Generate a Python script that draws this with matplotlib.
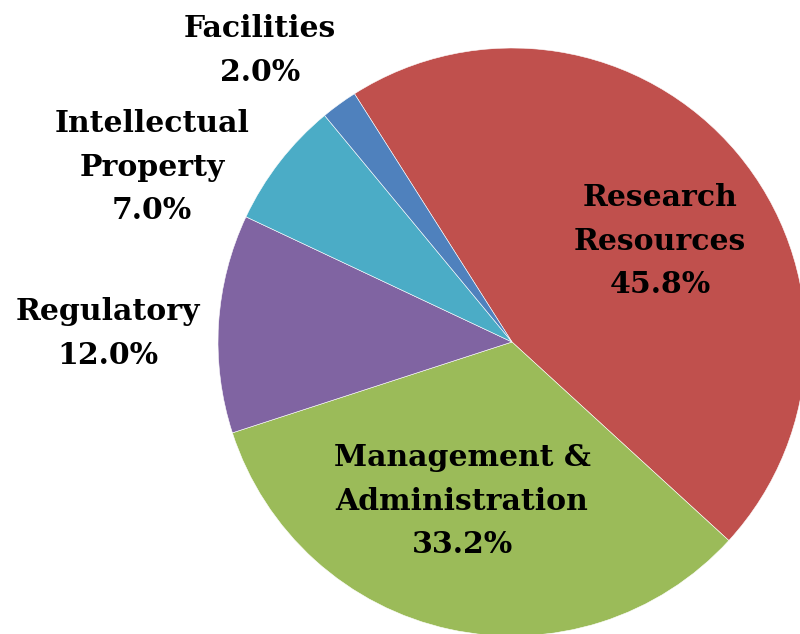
import numpy as np
import matplotlib.pyplot as plt

plt.rcParams['font.family'] = 'DejaVu Serif'

categories = ['Research\nResources', 'Management &\nAdministration', 'Regulatory',
              'Intellectual\nProperty', 'Facilities']
shares = [45.8, 33.2, 12.0, 7.0, 2.0]
colors = ['#C0504D', '#9BBB59', '#8064A2', '#4BACC6', '#4F81BD']

# label anchor: x centre and baseline of first line, pixels from top-left
label_pos = [(660, 206), (462, 466), (108, 320), (152, 132), (260, 37)]
line_step = 43.7

W, H = 800, 634
fig = plt.figure(figsize=(W / 100, H / 100), dpi=100)
ax = fig.add_axes([0, 0, 1, 1])

cx, cy, r = 512, H - 342, 294
ax.pie(shares, colors=colors, startangle=122.4, counterclock=False,
       center=(cx, cy), radius=r, frame=True,
       wedgeprops=dict(edgecolor='white', linewidth=0.4))

for name, val, (x, y) in zip(categories, shares, label_pos):
    lines = name.split('\n') + [f"{val:.1f}%"]
    for i, line in enumerate(lines):
        ax.text(x, H - (y + i * line_step), line, ha='center', va='baseline',
                fontsize=21.5, fontweight='bold', color='black')

ax.set_xlim(0, W)
ax.set_ylim(0, H)
ax.set_aspect('equal')
ax.axis('off')

fig.savefig('out.png', dpi=100)
